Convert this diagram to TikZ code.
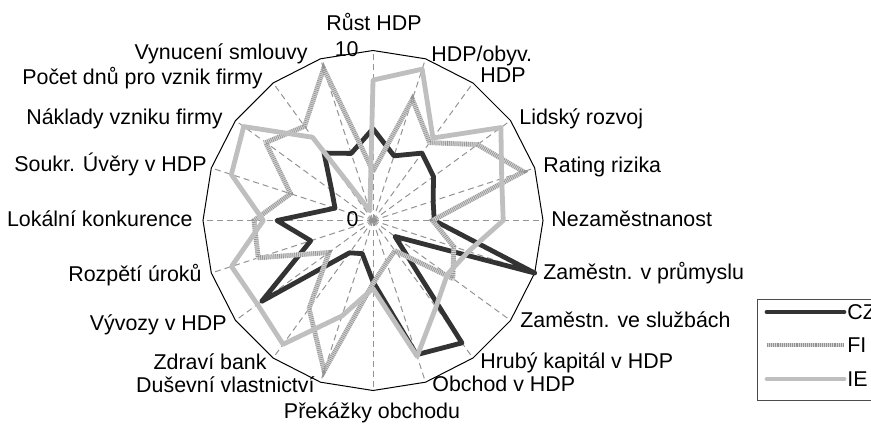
\documentclass[tikz,border=0pt]{standalone}
\usepackage{fontspec}
\setmainfont{Liberation Sans}
\usetikzlibrary{calc}

\tikzset{
  spoke/.style={draw=black!42, line width=0.5pt, dash pattern=on 3pt off 2pt},
  rim/.style={draw=black, line width=0.5pt},
  lineCZ/.style={draw=black!80, line width=2.4pt, line join=round, line cap=round},
  lineFI/.style={draw=black!17, line width=2.4pt, line join=round},
  hatchFI/.style={draw=black!42, line width=2.4pt, dash pattern=on 0.35pt off 0.6pt},
  lineIE/.style={draw=black!25, line width=2.4pt, line join=round, line cap=round},
  lbl/.style={inner sep=0pt, font=\fontsize{10.7}{12}\selectfont}
}

\begin{document}
\begin{tikzpicture}[x=0.5pt, y=0.5pt]
    \useasboundingbox (0,0) rectangle (871,423);

    % radar
    \begin{scope}[shift={(373,202.5)}, x=8.5pt, y=8.5pt]
        \coordinate (o) at (0,0);
        \foreach \k in {0,...,19} {
            \coordinate (rim\k) at ({90-18*\k}:10);
            \draw[spoke] (o) -- (rim\k);
        }
        \draw[rim] (rim0) \foreach \k in {1,...,19} { -- (rim\k) } -- cycle;

        % CZ
        \foreach \v [count=\k from 0] in {5.4,4.0,4.9,4.4,3.72,3.6,10,1.6,8.9,8.3,3.6,2.05,2.35,8.1,3.85,5.65,2.35,3.0,4.9,4.15}
            \coordinate (cz\k) at ({90-18*\k}:\v);
        \draw[lineCZ] (cz0) \foreach \k in {1,...,19} { -- (cz\k) } -- cycle;

        % FI
        \foreach \v [count=\k from 0] in {2.9,7.5,5.66,7.6,9.3,3.5,5.0,5.8,2.2,2.6,3.7,9.3,6.4,3.2,7.1,7.0,5.1,7.8,6.85,9.4}
            \coordinate (fi\k) at ({90-18*\k}:\v);
        \draw[lineFI] (fi0) \foreach \k in {1,...,19} { -- (fi\k) } -- cycle;
        \draw[hatchFI] (fi0) \foreach \k in {1,...,19} { -- (fi\k) } -- cycle;

        % IE
        \foreach \v [count=\k from 0] in {8.26,9.36,6.0,9.3,7.96,7.66,5.9,5.4,6.3,8.4,4.0,5.9,9.0,8.4,8.75,6.45,8.76,9.4,6.05,0.6}
            \coordinate (ie\k) at ({90-18*\k}:\v);
        \draw[lineIE] (ie0) \foreach \k in {1,...,19} { -- (ie\k) } -- cycle;
    \end{scope}

    % axis labels
    \node[lbl, anchor=base] (l0) at (374,392) {Růst HDP};
    \node[lbl, anchor=base west] (l1) at (431,361.5) {HDP/obyv.};
    \node[lbl, anchor=base west] (l2) at (480,340) {HDP};
    \node[lbl, anchor=base west] (l3) at (519,298) {Lidský rozvoj};
    \node[lbl, anchor=base west] (l4) at (543,250) {Rating rizika};
    \node[lbl, anchor=base west] (l5) at (551,196.5) {Nezaměstnanost};
    \node[lbl, anchor=base west] (l6) at (543,143) {Zaměstn. v průmyslu};
    \node[lbl, anchor=base west] (l7) at (520,95.5) {Zaměstn. ve službách};
    \node[lbl, anchor=base west] (l8) at (480,55) {Hrubý kapitál v HDP};
    \node[lbl, anchor=base west] (l9) at (432,32) {Obchod v HDP};
    \node[lbl, anchor=base] (l10) at (372,5) {Překážky obchodu};
    \node[lbl, anchor=base east] (l11) at (315,31) {Duševní vlastnictví};
    \node[lbl, anchor=base east] (l12) at (267,53.5) {Zdraví bank};
    \node[lbl, anchor=base east] (l13) at (227,93) {Vývozy v HDP};
    \node[lbl, anchor=base east] (l14) at (202,141.5) {Rozpětí úroků};
    \node[lbl, anchor=base east] (l15) at (193,196.5) {Lokální konkurence};
    \node[lbl, anchor=base east] (l16) at (207,251.5) {Soukr. Úvěry v HDP};
    \node[lbl, anchor=base east] (l17) at (223,298) {Náklady vzniku firmy};
    \node[lbl, anchor=base east] (l18) at (263,338) {Počet dnů pro vznik firmy};
    \node[lbl, anchor=base east] (l19) at (308,363) {Vynucení smlouvy};
    \node[lbl, anchor=base east] (max) at (359,366) {10};
    \node[lbl, anchor=base east] (min) at (359,196.5) {0};

    % legend
    \draw[black!70, line width=0.5pt] (757,124) rectangle (880,23);
    \node[lbl, inner sep=1.5pt, anchor=west] (lgCZ) at (844,111) {CZ};
    \node[lbl, inner sep=1.5pt, anchor=west] (lgFI) at (844,78) {FI};
    \node[lbl, inner sep=1.5pt, anchor=west] (lgIE) at (844,44) {IE};
    \coordinate (sCZ) at (767,111);
    \coordinate (sFI) at (767,78);
    \coordinate (sIE) at (767,44);
    \draw[lineCZ] (sCZ) -- (lgCZ.west);
    \draw[lineFI] (sFI) -- (lgFI.west);
    \draw[hatchFI] (sFI) -- (lgFI.west);
    \draw[lineIE] (sIE) -- (lgIE.west);
\end{tikzpicture}
\end{document}
